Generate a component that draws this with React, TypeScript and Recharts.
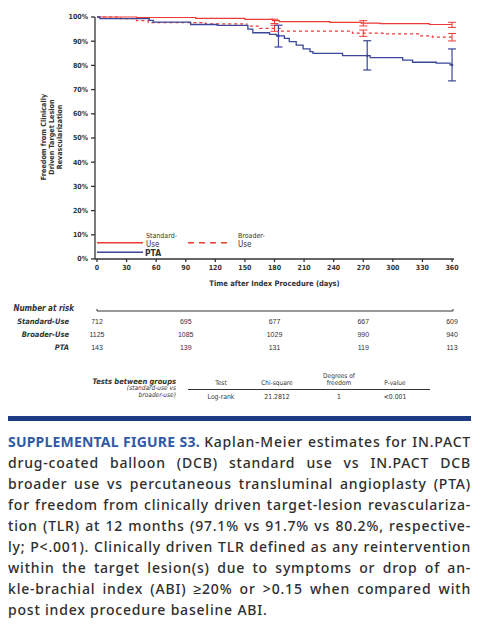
import React from 'react'
import {
  LineChart, Line, XAxis, YAxis, ErrorBar, Legend,
  ScatterChart, Scatter,
} from 'recharts'

// KM steps: day -> % free from CD-TLR
const standardDays = [0, 40, 100, 150, 178, 180, 185, 236, 268, 270, 287, 337, 360]
const standardSurv = [100, 99.8, 99.4, 99.0, 98.5, 98.5, 98.1, 97.8, 97.5, 97.5, 97.3, 96.9, 96.9]

const broaderDays = [0, 24, 40, 52, 110, 152, 165, 180, 186, 259, 270, 290, 327, 340, 360]
const broaderSurv = [100, 99.3, 98.5, 97.7, 97.2, 96.2, 95.3, 95.3, 94.2, 93.3, 93.3, 93.0, 92.2, 91.7, 91.7]

const ptaDays = [0, 3, 53, 57, 95, 122, 153, 158, 175, 182, 184, 190, 195, 202, 209, 216, 219, 249, 274, 277, 310, 320, 344, 358, 360]
const ptaSurv = [100, 99.3, 98.6, 97.9, 96.9, 96.5, 95.0, 93.5, 92.8, 92.2, 92.2, 91.2, 89.8, 88.4, 86.8, 85.7, 85.0, 84.0, 84.0, 83.2, 82.2, 81.3, 80.9, 80.2, 80.2]

// 95% CI shown as error bars
const standardCiDays = [180, 270, 360]
const standardCiLow = [97.3, 96.3, 95.7]
const standardCiHigh = [99.1, 98.5, 97.8]

const broaderCiDays = [180, 270, 360]
const broaderCiLow = [94.1, 92.0, 90.1]
const broaderCiHigh = [96.6, 94.6, 93.2]

const ptaCiDays = [184, 274, 360]
const ptaCiLow = [87.6, 78.1, 73.6]
const ptaCiHigh = [96.6, 90.2, 86.8]

const xTicks = [0, 30, 60, 90, 120, 150, 180, 210, 240, 270, 300, 330, 360]
const yTicks = [0, 10, 20, 30, 40, 50, 60, 70, 80, 90, 100]

// number at risk
const riskRows = ['Standard-Use', 'Broader-Use', 'PTA']
const riskDays = [0, 90, 180, 270, 360]
const riskStandard = [712, 695, 677, 667, 609]
const riskBroader = [1125, 1085, 1029, 990, 940]
const riskPta = [143, 139, 131, 119, 113]

const testHeaders = ['Test', 'Chi-square', 'Degrees of\nfreedom', 'P-value']
const testValues = ['Log-rank', '21.2812', '1', '<0.001']

const captionLines = [
  'Kaplan-Meier estimates for IN.PACT',
  'drug-coated balloon (DCB) standard use vs IN.PACT DCB',
  'broader use vs percutaneous transluminal angioplasty (PTA)',
  'for freedom from clinically driven target-lesion revasculariza-',
  'tion (TLR) at 12 months (97.1% vs 91.7% vs 80.2%, respective-',
  'ly; P<.001). Clinically driven TLR defined as any reintervention',
  'within the target lesion(s) due to symptoms or drop of an-',
  'kle-brachial index (ABI) \u226520% or >0.15 when compared with',
  'post index procedure baseline ABI.',
]

const RED = '#ec3b36'
const BLUE = '#3a4799'
const AXIS = '#333'
const NARROW = "'Liberation Sans Narrow','DejaVu Sans Condensed','Liberation Sans',Arial,sans-serif"
const SANS = "'Liberation Sans',Arial,sans-serif"

function buildSeries(days: number[], surv: number[], ciDays: number[], lo: number[], hi: number[]) {
  return days.map((d, i) => {
    const k = ciDays.indexOf(d)
    return {
      day: d,
      surv: surv[i],
      err: k >= 0 ? [surv[i] - lo[k], hi[k] - surv[i]] : undefined,
    }
  })
}

const standardData = buildSeries(standardDays, standardSurv, standardCiDays, standardCiLow, standardCiHigh)
const broaderData = buildSeries(broaderDays, broaderSurv, broaderCiDays, broaderCiLow, broaderCiHigh)
const ptaData = buildSeries(ptaDays, ptaSurv, ptaCiDays, ptaCiLow, ptaCiHigh)

const riskData = [riskStandard, riskBroader, riskPta].flatMap((vals, r) =>
  vals.map((n, i) => ({ day: riskDays[i], row: r + 1, n }))
)

const ciDot = (color: string) => (p: any) =>
  p.payload && p.payload.err
    ? <circle key={'d' + p.index} cx={p.cx} cy={p.cy} r={1.3} fill={color} />
    : <g key={'d' + p.index} />

function LegendKey() {
  return (
    <svg width={481} height={300} style={{ display: 'block' }}>
      <g fontFamily={NARROW} fill={AXIS}>
        <line x1={97} x2={143} y1={242.7} y2={242.7} stroke={RED} strokeWidth={1.6} />
        <text x={146} y={236} fontSize={7} dominantBaseline="central">Standard-</text>
        <text x={146} y={244.5} fontSize={8} dominantBaseline="central">Use</text>
        <line x1={97} x2={143} y1={252.3} y2={252.3} stroke={BLUE} strokeWidth={1.6} />
        <text x={145} y={252.8} fontSize={8.5} fontWeight="bold" dominantBaseline="central">PTA</text>
        <line x1={188} x2={232} y1={242.7} y2={242.7} stroke={RED} strokeWidth={1.6} strokeDasharray="6 5" />
        <text x={238} y={236} fontSize={7} dominantBaseline="central">Broader-</text>
        <text x={238} y={244.5} fontSize={8} dominantBaseline="central">Use</text>
      </g>
    </svg>
  )
}

function YLabel() {
  const lines = ['Freedom from Clinically', 'Driven Target Lesion', 'Revascularization']
  const xs = [43, 51, 59]
  return (
    <g fontFamily={NARROW} fontSize={7.2} fontWeight="bold" fill={AXIS}>
      {lines.map((t, i) => (
        <text key={t} transform={`translate(${xs[i]},137) rotate(-90)`} textAnchor="middle" dominantBaseline="central">{t}</text>
      ))}
    </g>
  )
}

const RiskTick = (p: any) => (
  <text x={p.x} y={p.y} textAnchor="end" dominantBaseline="central" fontFamily={NARROW}
    fontSize={7.5} fontWeight="bold" fontStyle="italic" fill={AXIS}>
    {riskRows[p.payload.value - 1]}
  </text>
)

// header row of the at-risk table, drawn as the top axis line with its title
function RiskHeader() {
  return (
    <g>
      <line x1={97} x2={453} y1={311} y2={311} stroke={AXIS} strokeWidth={1.2} />
      <line x1={97} x2={97} y1={311} y2={309} stroke={AXIS} strokeWidth={1} />
      <line x1={453} x2={453} y1={311} y2={309} stroke={AXIS} strokeWidth={1} />
      <text x={74} y={308.5} textAnchor="end" dominantBaseline="central" fontFamily={NARROW}
        fontSize={8} fontWeight="bold" fontStyle="italic" fill={AXIS}>Number at risk</text>
    </g>
  )
}

export default function App() {
  const colX = [221, 277, 339, 395]
  return (
    <div style={{ position: 'relative', width: 481, height: 624, background: '#fff', overflow: 'hidden' }}>
      <style>{'body{margin:0}'}</style>

      <div style={{ position: 'absolute', left: 0, top: 0 }}>
        <LineChart width={481} height={300} margin={{ top: 17, right: 27, bottom: 0, left: 0 }}>
          <XAxis type="number" dataKey="day" domain={[-2, 362]} ticks={xTicks} height={41}
            stroke={AXIS} strokeWidth={1.3} tickSize={3} tickMargin={3}
            tick={{ fontSize: 7, fontFamily: NARROW, fontWeight: 'bold', fill: AXIS }}
            label={{ value: 'Time after Index Procedure (days)', position: 'insideBottom', offset: 14,
              style: { fontSize: 7.5, fontFamily: NARROW, fontWeight: 'bold', fill: AXIS } }} />
          <YAxis type="number" domain={[0, 100]} ticks={yTicks} width={95}
            stroke={AXIS} strokeWidth={1.3} tickSize={4} tickMargin={3}
            tickFormatter={(v: number) => v + '%'}
            tick={{ fontSize: 7, fontFamily: NARROW, fontWeight: 'bold', fill: AXIS }}
            label={{ content: () => <YLabel /> }} />
          <Legend layout="horizontal" align="center" verticalAlign="middle"
            wrapperStyle={{ left: 0, top: 0, width: 481, height: 300 }} content={() => <LegendKey />} />
          <Line data={standardData} dataKey="surv" type="stepAfter" stroke={RED} strokeWidth={1.2}
            dot={false} activeDot={false} isAnimationActive={false}>
            <ErrorBar dataKey="err" width={4} stroke={RED} strokeWidth={1} />
          </Line>
          <Line data={broaderData} dataKey="surv" type="stepAfter" stroke={RED} strokeWidth={1.2}
            strokeDasharray="3 3" dot={false} activeDot={false} isAnimationActive={false}>
            <ErrorBar dataKey="err" width={4} stroke={RED} strokeWidth={1} />
          </Line>
          <Line data={ptaData} dataKey="surv" type="stepAfter" stroke={BLUE} strokeWidth={1.3}
            dot={ciDot(BLUE)} activeDot={false} isAnimationActive={false}>
            <ErrorBar dataKey="err" width={4} stroke={BLUE} strokeWidth={1.2} />
          </Line>
        </LineChart>
      </div>

      <svg width={481} height={20} viewBox="0 300 481 20" style={{ position: 'absolute', left: 0, top: 300 }}>
        <RiskHeader />
      </svg>

      <div style={{ position: 'absolute', left: 0, top: 300 }}>
        <ScatterChart width={481} height={60} margin={{ top: 11, right: 27, bottom: 13, left: 0 }}>
          <XAxis type="number" dataKey="day" domain={[-2, 362]} hide />
          <YAxis type="number" dataKey="row" domain={[0.23, 3]} ticks={[1, 2, 3]} interval={0} reversed width={95}
            axisLine={false} tickLine={false} tickMargin={20} tick={<RiskTick />} />
          <Scatter data={riskData} isAnimationActive={false}
            shape={(p: any) => (
              <text x={p.cx} y={p.cy} textAnchor="middle" dominantBaseline="central"
                fontFamily={SANS} fontSize={7} fill={AXIS}>{p.payload.n}</text>
            )} />
        </ScatterChart>
      </div>

      <svg width={481} height={60} style={{ position: 'absolute', left: 0, top: 365 }}>
        <g fontFamily={NARROW} fill={AXIS}>
          <text x={176} y={16} textAnchor="end" fontSize={7.5} fontWeight="bold" fontStyle="italic" dominantBaseline="central">Tests between groups</text>
          <text x={176} y={23} textAnchor="end" fontSize={6.5} fontStyle="italic" dominantBaseline="central">(standard-use vs</text>
          <text x={176} y={30} textAnchor="end" fontSize={6.5} fontStyle="italic" dominantBaseline="central">broader-use)</text>
          {testHeaders.map((h, i) => {
            const parts = h.split('\n')
            return parts.map((t, j) => (
              <text key={h + j} x={colX[i]} y={18 - (parts.length - 1 - j) * 7} textAnchor="middle"
                fontSize={6.5} dominantBaseline="central">{t}</text>
            ))
          })}
          <line x1={188} x2={430} y1={24.5} y2={24.5} stroke={AXIS} strokeWidth={1} />
          {testValues.map((v, i) => (
            <text key={v} x={colX[i]} y={31.5} textAnchor="middle" fontSize={6.8} dominantBaseline="central">{v}</text>
          ))}
        </g>
      </svg>

      <div style={{ position: 'absolute', left: 8, top: 416, width: 463, height: 5, background: '#1e3c86' }} />

      <div style={{ position: 'absolute', left: 8, top: 431, width: 463, fontFamily: "'Noto Sans', sans-serif", fontSize: 14, fontWeight: 500, letterSpacing: 0.8, color: '#2e2e2e' }}>
        {captionLines.map((t, i) => (
          <div key={i} style={{
            height: 21, lineHeight: '21px', whiteSpace: 'nowrap',
            textAlign: 'justify', textAlignLast: i < captionLines.length - 1 ? 'justify' : 'left',
          }}>
            {i === 0 && <span style={{ color: '#2f5aa6', fontWeight: 700, letterSpacing: 0.2 }}>SUPPLEMENTAL FIGURE S3. </span>}
            {t}
          </div>
        ))}
      </div>
    </div>
  )
}
